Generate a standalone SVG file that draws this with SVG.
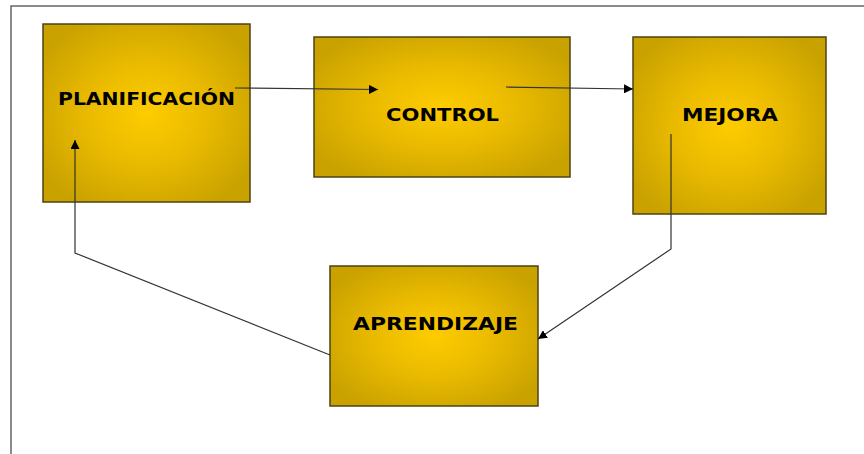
<svg xmlns="http://www.w3.org/2000/svg" width="864" height="454" viewBox="0 0 864 454">
<style>
.box{fill:url(#g);stroke:#4d4214;stroke-width:1.5}
.lbl{font-family:"DejaVu Sans",Verdana,sans-serif;font-weight:bold;font-size:17.5px;fill:#000;text-anchor:middle}
.con{fill:none;stroke:#333;stroke-width:1.2}
.frame{fill:none;stroke:#666;stroke-width:1.5}
</style>
<defs>
<radialGradient id="g" cx="50%" cy="50%" r="60%">
<stop offset="0" stop-color="#ffcc00"/>
<stop offset="0.5" stop-color="#e8b900"/>
<stop offset="1" stop-color="#c9a200"/>
</radialGradient>
<marker id="arr" viewBox="0 0 10 10" refX="10" refY="5" markerWidth="9" markerHeight="9" markerUnits="userSpaceOnUse" orient="auto">
<path d="M0,0 L10,5 L0,10 z" fill="#000"/>
</marker>
</defs>
<path class="frame" d="M11,454 L11,6 L864,6"/>
<g id="planificacion">
<rect class="box" x="43" y="24" width="207" height="178"/>
<text class="lbl" x="146.5" y="105" textLength="177" lengthAdjust="spacingAndGlyphs">PLANIFICACIÓN</text>
</g>
<g id="control">
<rect class="box" x="314" y="37" width="256" height="140"/>
<text class="lbl" x="442.5" y="121" textLength="113" lengthAdjust="spacingAndGlyphs">CONTROL</text>
</g>
<g id="mejora">
<rect class="box" x="633" y="37" width="193" height="177"/>
<text class="lbl" x="730" y="121" textLength="96" lengthAdjust="spacingAndGlyphs">MEJORA</text>
</g>
<g id="aprendizaje">
<rect class="box" x="330" y="266" width="208" height="140"/>
<text class="lbl" x="435.5" y="330" textLength="165" lengthAdjust="spacingAndGlyphs">APRENDIZAJE</text>
</g>
<g id="connectors">
<path class="con" d="M235,88 L378,89.5" marker-end="url(#arr)"/>
<path class="con" d="M506,87 L633,89" marker-end="url(#arr)"/>
<path class="con" d="M671,134 L671,249 L538,339" marker-end="url(#arr)"/>
<path class="con" d="M330,355 L75,253 L75,140" marker-end="url(#arr)"/>
</g>
</svg>
